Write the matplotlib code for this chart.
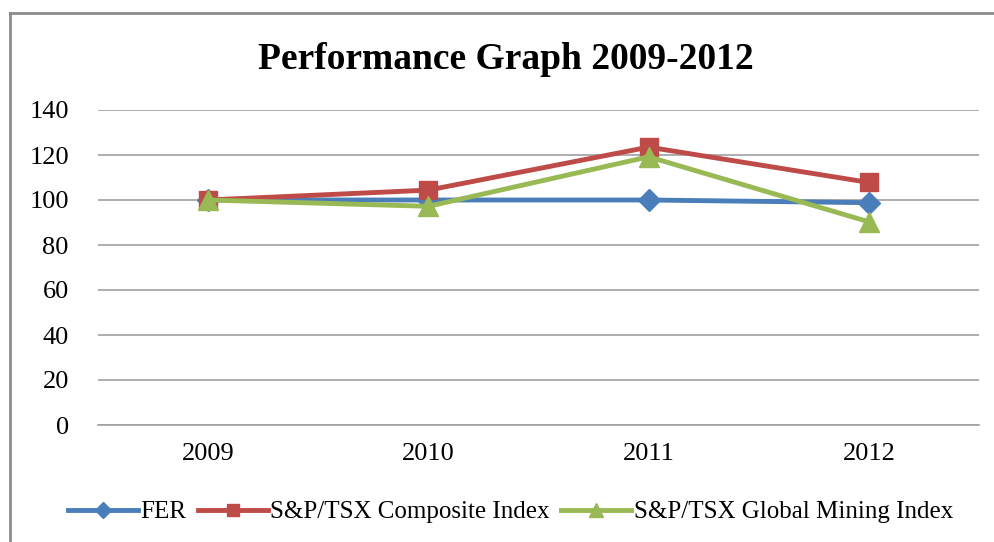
import matplotlib.pyplot as plt

years = ['2009', '2010', '2011', '2012']
fer = [100, 100, 100, 98.8]
composite = [100, 104.4, 123.5, 107.8]
mining = [100, 97.2, 119.2, 90.3]
yticks = [0, 20, 40, 60, 80, 100, 120, 140]

plt.rcParams['font.family'] = ['Liberation Serif', 'DejaVu Serif']

fig = plt.figure(figsize=(9.95, 5.42), dpi=100)
ax = fig.add_axes([98 / 995, 117 / 542, 881 / 995, 315 / 542])

x = range(len(years))
ax.plot(x, fer, color='#4a7ebb', lw=3.5, marker='D', ms=11, label='FER')
ax.plot(x, composite, color='#be4b48', lw=3.5, marker='s', ms=13,
        label='S&P/TSX Composite Index')
ax.plot(x, mining, color='#98b954', lw=3.5, marker='^', ms=14,
        label='S&P/TSX Global Mining Index')

ax.set_xlim(-0.5, 3.5)
ax.set_ylim(0, 140)
ax.set_yticks(yticks)
ax.set_xticks(list(x))
ax.set_xticklabels(years)
ax.yaxis.grid(True, color='#a0a0a0', lw=1.2)
ax.set_axisbelow(True)
for s in ['top', 'right', 'left']:
    ax.spines[s].set_visible(False)
ax.spines['bottom'].set_color('#a0a0a0')
ax.spines['bottom'].set_linewidth(1.2)
ax.tick_params(length=0, labelsize=19)
ax.tick_params(axis='x', pad=13)
ax.tick_params(axis='y', pad=21)

fig.text(0.508, 0.89, 'Performance Graph 2009-2012', ha='center', va='center',
         fontsize=27, fontweight='bold')

fig.legend(loc='center', bbox_to_anchor=(0.513, 0.055), ncol=3, frameon=False,
           fontsize=18, handlelength=2.8, handletextpad=0.1, columnspacing=0.45,
           markerscale=0.7)

# outer chart border (only top and left are inside the picture)
fig.add_artist(plt.Line2D([10 / 995, 10 / 995], [0, 1 - 13 / 542],
                          transform=fig.transFigure, color='#8c8c8c', lw=2))
fig.add_artist(plt.Line2D([10 / 995, 1], [1 - 13 / 542, 1 - 13 / 542],
                          transform=fig.transFigure, color='#8c8c8c', lw=2))

fig.savefig('out.png', dpi=100)
